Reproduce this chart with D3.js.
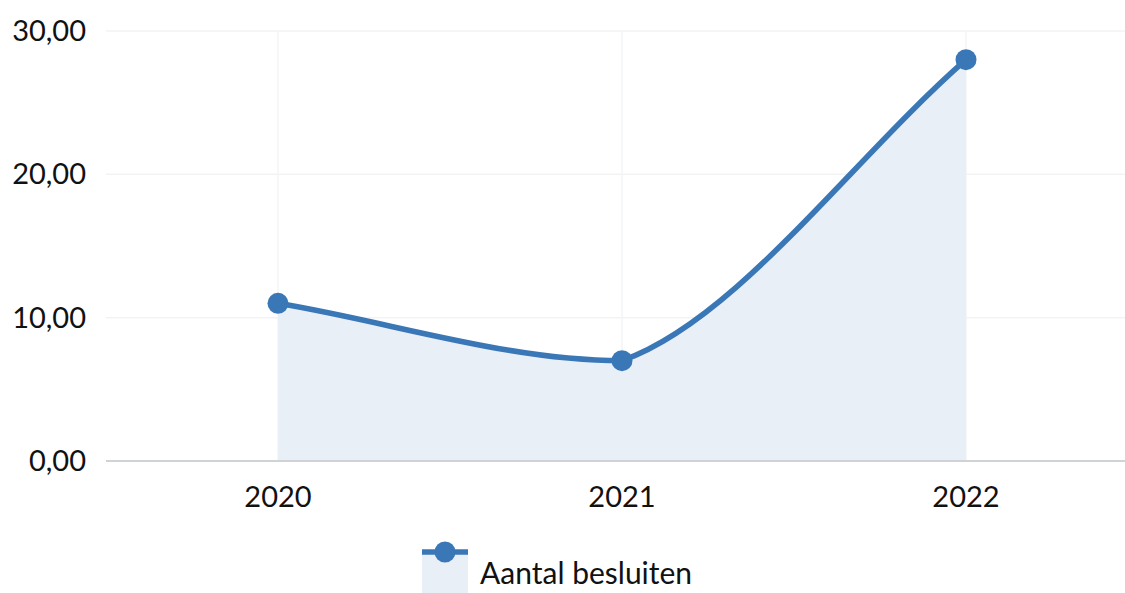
<!DOCTYPE html>
<html>
<head>
<meta charset="utf-8">
<script src="https://cdn.jsdelivr.net/npm/d3@7"></script>
<style>
  body { margin: 0; background: #fff; }
  svg { display: block; font-family: Lato, sans-serif; }
</style>
</head>
<body>
<div id="chart"></div>
<script>
var years = ["2020", "2021", "2022"];
var besluiten = [11, 7, 28];
var yTicks = [0, 10, 20, 30];
var seriesName = "Aantal besluiten";

const WIDTH = 1125;
const HEIGHT = 593;
const LEFT = 106;
const TOP = 31;
const BOTTOM = 461;
const LINE_COLOR = "#3a77b6";
const AREA_COLOR = "#e8eff7";
const FONT_SIZE = "29px";

var data = years.map(function (y, i) { return { year: y, value: besluiten[i] }; });

var svg = d3.select("#chart")
    .append("svg")
    .attr("width", WIDTH)
    .attr("height", HEIGHT);

var xScale = d3.scalePoint().domain(years).range([LEFT, 1138]).padding(0.5),
    yScale = d3.scaleLinear().domain([0, 30]).range([BOTTOM, TOP]);

// cardinal-style spline, control points kept inside each segment's y range
function splinePath(pts, closeToBase) {
    var n = pts.length;
    var slope = pts.map(function (p, i) {
        var a = pts[Math.max(0, i - 1)], b = pts[Math.min(n - 1, i + 1)];
        return (b[1] - a[1]) / (b[0] - a[0]);
    });
    var path = d3.path();
    path.moveTo(pts[0][0], pts[0][1]);
    for (var i = 1; i < n; i++) {
        var p0 = pts[i - 1], p1 = pts[i];
        var h = (p1[0] - p0[0]) / 3;
        var lo = Math.min(p0[1], p1[1]), hi = Math.max(p0[1], p1[1]);
        var c1y = Math.max(lo, Math.min(hi, p0[1] + slope[i - 1] * h));
        var c2y = Math.max(lo, Math.min(hi, p1[1] - slope[i] * h));
        path.bezierCurveTo(p0[0] + h, c1y, p1[0] - h, c2y, p1[0], p1[1]);
    }
    if (closeToBase) {
        path.lineTo(pts[n - 1][0], yScale(0));
        path.lineTo(pts[0][0], yScale(0));
        path.closePath();
    }
    return path.toString();
}

var pts = data.map(function (d) { return [xScale(d.year), yScale(d.value)]; });

// horizontal grid
svg.append("g")
    .selectAll("line")
    .data(yTicks.slice(1))
    .enter()
    .append("line")
    .attr("x1", LEFT)
    .attr("x2", WIDTH)
    .attr("y1", function (d) { return yScale(d); })
    .attr("y2", function (d) { return yScale(d); })
    .attr("stroke", "#f3f3f3")
    .attr("stroke-width", 1.5);

// vertical grid
svg.append("g")
    .selectAll("line")
    .data(years)
    .enter()
    .append("line")
    .attr("x1", function (d) { return xScale(d); })
    .attr("x2", function (d) { return xScale(d); })
    .attr("y1", TOP)
    .attr("y2", BOTTOM)
    .attr("stroke", "#f3f4f6")
    .attr("stroke-width", 1.5);

svg.append("path")
    .attr("d", splinePath(pts, true))
    .attr("fill", AREA_COLOR);

// x axis line
svg.append("line")
    .attr("x1", LEFT)
    .attr("x2", WIDTH)
    .attr("y1", BOTTOM)
    .attr("y2", BOTTOM)
    .attr("stroke", "#cfd3d8")
    .attr("stroke-width", 2);

svg.append("path")
    .attr("d", splinePath(pts, false))
    .attr("fill", "none")
    .attr("stroke", LINE_COLOR)
    .attr("stroke-width", 5.5)
    .attr("stroke-linecap", "round");

svg.append("g")
    .selectAll("circle")
    .data(data)
    .enter()
    .append("circle")
    .attr("cx", function (d) { return xScale(d.year); })
    .attr("cy", function (d) { return yScale(d.value); })
    .attr("r", 10.5)
    .attr("fill", LINE_COLOR);

// y labels
var fmt = function (v) { return d3.format(".2f")(v).replace(".", ","); };
svg.append("g")
    .selectAll("text")
    .data(yTicks)
    .enter()
    .append("text")
    .attr("x", 86)
    .attr("y", function (d) { return yScale(d) + 10; })
    .attr("text-anchor", "end")
    .style("font-size", FONT_SIZE)
    .attr("fill", "#111")
    .text(fmt);

// x labels
svg.append("g")
    .selectAll("text")
    .data(years)
    .enter()
    .append("text")
    .attr("x", function (d) { return xScale(d); })
    .attr("y", 507)
    .attr("text-anchor", "middle")
    .style("font-size", FONT_SIZE)
    .attr("fill", "#111")
    .text(function (d) { return d; });

// legend
var legend = svg.append("g").attr("transform", "translate(422,552)");
legend.append("rect")
    .attr("x", 0).attr("y", 0)
    .attr("width", 46).attr("height", 41)
    .attr("fill", AREA_COLOR);
legend.append("line")
    .attr("x1", 0).attr("x2", 46)
    .attr("y1", 0).attr("y2", 0)
    .attr("stroke", LINE_COLOR)
    .attr("stroke-width", 5.5);
legend.append("circle")
    .attr("cx", 23).attr("cy", 0).attr("r", 10.5)
    .attr("fill", LINE_COLOR);
legend.append("text")
    .attr("x", 58).attr("y", 32)
    .style("font-size", "30px")
    .attr("fill", "#111")
    .text(seriesName);
</script>
</body>
</html>
